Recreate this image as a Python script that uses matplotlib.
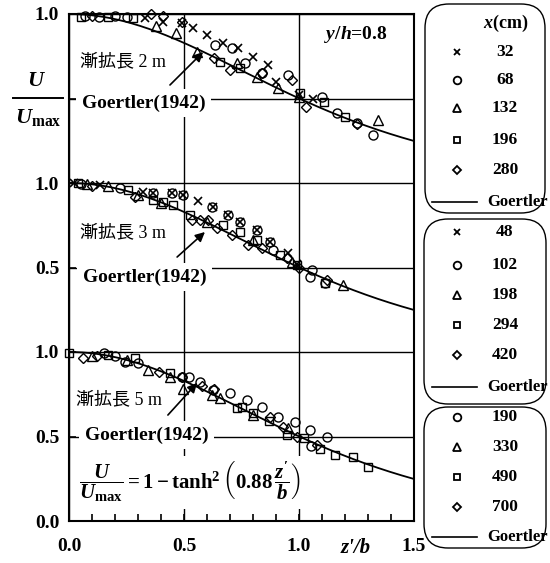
import numpy as np
import matplotlib
matplotlib.use("Agg")
import matplotlib.pyplot as plt
from matplotlib.patches import FancyBboxPatch
from matplotlib.lines import Line2D

plt.rcParams["font.family"] = ["Liberation Serif", "Noto Sans CJK JP"]
plt.rcParams["mathtext.fontset"] = "custom"
plt.rcParams["mathtext.rm"] = "Liberation Serif:bold"
plt.rcParams["mathtext.it"] = "Liberation Serif:italic:bold"
plt.rcParams["mathtext.bf"] = "Liberation Serif:bold"

# Goertler (1942) profile: U/Umax = 1 - tanh^2(K z'/b)
GOERTLER_K = 0.88

# ---- diffuser length 2 m (x = 32, 68, 132, 196, 280 cm) ----
d2_labels = ["32", "68", "132", "196", "280"]
d2_markers = ["x", "o", "^", "s", "D"]
d2_z = [
    [0.33, 0.41, 0.49, 0.54, 0.60, 0.67, 0.735, 0.80, 0.865, 0.90, 1.00, 1.06],
    [0.07, 0.13, 0.20, 0.25, 0.635, 0.71, 0.765, 0.84, 0.95, 1.10, 1.165, 1.25, 1.32],
    [0.38, 0.465, 0.556, 0.73, 0.817, 0.91, 1.00, 1.343],
    [0.05, 0.17, 0.28, 0.657, 0.743, 1.004, 1.11, 1.20],
    [0.10, 0.357, 0.41, 0.49, 0.63, 0.70, 0.84, 0.97, 1.03, 1.25],
]
d2_u = [
    [0.975, 0.955, 0.945, 0.92, 0.876, 0.828, 0.80, 0.746, 0.698, 0.598, 0.52, 0.50],
    [0.99, 0.985, 0.99, 0.985, 0.817, 0.799, 0.71, 0.651, 0.639, 0.508, 0.414, 0.356, 0.284],
    [0.929, 0.888, 0.775, 0.71, 0.627, 0.562, 0.51, 0.373],
    [0.985, 0.985, 0.976, 0.716, 0.68, 0.53, 0.48, 0.39],
    [0.99, 1.0, 0.99, 0.95, 0.74, 0.669, 0.651, 0.609, 0.45, 0.35],
]

# ---- diffuser length 3 m (x = 48, 102, 198, 294, 420 cm) ----
d3_labels = ["48", "102", "198", "294", "420"]
d3_markers = ["x", "o", "^", "s", "D"]
d3_z = [
    [0.02, 0.135, 0.32, 0.366, 0.447, 0.497, 0.56, 0.627, 0.693, 0.743, 0.816, 0.874, 0.952, 0.99],
    [0.05, 0.22, 0.366, 0.447, 0.497, 0.62, 0.693, 0.743, 0.816, 0.874, 0.888, 1.056, 1.048, 1.113],
    [0.08, 0.17, 0.30, 0.40, 0.60, 0.80, 0.97, 1.19],
    [0.04, 0.257, 0.366, 0.41, 0.452, 0.527, 0.67, 0.743, 0.816, 0.917, 0.99, 1.113],
    [0.10, 0.287, 0.534, 0.57, 0.604, 0.643, 0.707, 0.78, 0.838, 0.947, 1.00, 1.12],
]
d3_u = [
    [1.0, 0.99, 0.947, 0.941, 0.94, 0.929, 0.893, 0.858, 0.811, 0.769, 0.722, 0.651, 0.586, 0.52],
    [0.995, 0.97, 0.941, 0.94, 0.929, 0.858, 0.811, 0.769, 0.722, 0.651, 0.604, 0.485, 0.444, 0.408],
    [0.995, 0.985, 0.93, 0.88, 0.77, 0.66, 0.53, 0.396],
    [1.0, 0.959, 0.90, 0.888, 0.87, 0.81, 0.75, 0.71, 0.663, 0.574, 0.515, 0.41],
    [0.985, 0.917, 0.781, 0.781, 0.781, 0.734, 0.692, 0.633, 0.615, 0.556, 0.50, 0.426],
]

# ---- diffuser length 5 m (x = 190, 330, 490, 700 cm) ----
d5_labels = ["190", "330", "490", "700"]
d5_markers = ["o", "^", "s", "D"]
d5_z = [
    [0.15, 0.20, 0.245, 0.30, 0.49, 0.52, 0.57, 0.627, 0.70, 0.773, 0.838, 0.91, 0.983, 1.048, 1.12, 1.05],
    [0.10, 0.25, 0.345, 0.44, 0.497, 0.62, 0.657, 0.80, 0.95],
    [0.0, 0.17, 0.287, 0.44, 0.73, 0.75, 0.80, 0.87, 0.947, 1.02, 1.09, 1.157, 1.236, 1.30],
    [0.06, 0.12, 0.39, 0.49, 0.58, 0.63, 0.874, 0.93, 0.99, 1.08],
]
d5_u = [
    [0.994, 0.976, 0.941, 0.935, 0.852, 0.85, 0.822, 0.775, 0.757, 0.716, 0.675, 0.615, 0.586, 0.538, 0.497, 0.444],
    [0.975, 0.95, 0.893, 0.85, 0.78, 0.746, 0.728, 0.63, 0.55],
    [0.994, 0.985, 0.964, 0.876, 0.669, 0.675, 0.639, 0.59, 0.509, 0.49, 0.426, 0.39, 0.379, 0.32],
    [0.964, 0.976, 0.88, 0.852, 0.80, 0.78, 0.615, 0.556, 0.497, 0.45],
]

panel_names = ["漸拡長 2 m", "漸拡長 3 m", "漸拡長 5 m"]
panel_offsets = [2.0, 1.0, 0.0]
ytick_pos = [0.0, 0.5, 1.0, 1.5, 2.0, 2.5, 3.0]
ytick_text = ["0.0", "0.5", "1.0", "0.5", "1.0", "", "1.0"]
xtick_pos = [0.0, 0.5, 1.0, 1.5]
xtick_text = ["0.0", "0.5", "1.0", "1.5"]

panels = [
    (d2_labels, d2_markers, d2_z, d2_u),
    (d3_labels, d3_markers, d3_z, d3_u),
    (d5_labels, d5_markers, d5_z, d5_u),
]

W, H = 550, 563
fig = plt.figure(figsize=(W / 100, H / 100), dpi=100)
ax = fig.add_axes([69 / W, 1 - 521 / H, (414 - 69) / W, (521 - 14) / H])
ax.set_xlim(0, 1.5)
ax.set_ylim(0, 3.0)

for sp in ax.spines.values():
    sp.set_linewidth(1.5)

ax.set_xticks(xtick_pos)
ax.set_xticklabels(xtick_text)
ax.set_xticks(np.arange(0, 1.51, 0.1), minor=True)
ax.set_yticks(ytick_pos)
ax.set_yticklabels(ytick_text)
ax.tick_params(axis="both", which="both", direction="in", length=5, width=1.2,
               labelsize=14)
ax.tick_params(axis="x", which="major", pad=12)
ax.tick_params(axis="y", which="major", pad=7)
for lab in ax.get_xticklabels() + ax.get_yticklabels():
    lab.set_fontweight("bold")
ax.grid(True, which="major", color="black", lw=1.0, zorder=0)
ax.set_axisbelow(True)

marker_kw = {"x": dict(ms=5.5, mew=1.2),
             "o": dict(ms=6.5, mew=1.0),
             "^": dict(ms=6.5, mew=1.0),
             "s": dict(ms=6.0, mew=1.0),
             "D": dict(ms=5.5, mew=1.0)}

zc = np.linspace(0, 1.5, 200)
uc = 1 - np.tanh(GOERTLER_K * zc) ** 2

for (labels, markers, zs, us), off in zip(panels, panel_offsets):
    ax.plot(zc, uc + off, color="black", lw=1.3, zorder=3)
    for lab, mk, z, u in zip(labels, markers, zs, us):
        ax.plot(z, np.asarray(u) + off, linestyle="none", marker=mk,
                mfc="none", mec="black", zorder=4, clip_on=False,
                **marker_kw[mk])

box = dict(fc="white", ec="none", pad=4)
name_y = [2.716, 1.704, 0.716]
name_x = [0.048, 0.048, 0.030]
ref_y = [2.473, 1.444, 0.509]
ref_x = [0.057, 0.060, 0.070]
arrow_tail = [(0.439, 2.580), (0.470, 1.562), (0.430, 0.627)]
arrow_head = [(0.583, 2.775), (0.591, 1.710), (0.557, 0.817)]
for i in range(3):
    ax.text(name_x[i], name_y[i], panel_names[i], fontsize=13, ha="left",
            va="center", zorder=5)
    ax.text(ref_x[i], ref_y[i], "Goertler(1942)", fontsize=14, ha="left",
            va="center", fontweight="bold", bbox=box, zorder=5)
    ax.annotate("", xy=arrow_head[i], xytext=arrow_tail[i],
                arrowprops=dict(arrowstyle="-|>", color="black", lw=1.2,
                                mutation_scale=14, shrinkA=0, shrinkB=0),
                zorder=6)

ax.text(0.045, 0.23,
        r"$\dfrac{U}{U_{\mathbf{max}}}=1-\tanh^2\left(0.88\,\dfrac{z'}{b}\right)$",
        fontsize=15, ha="left", va="center", zorder=5,
        bbox=dict(fc="white", ec="none", pad=3))
ax.text(1.248, 2.876, r"$y/h$=0.8", fontsize=14, ha="center", va="center",
        fontweight="bold")
ax.text(1.245, -0.053, "z'/b", fontsize=15, ha="center", va="center",
        fontstyle="italic", fontweight="bold",
        transform=ax.get_xaxis_transform())

# overlay in pixel units for the y-label fraction and the legend boxes
ov = fig.add_axes([0, 0, 1, 1], zorder=5)
ov.set_xlim(0, W)
ov.set_ylim(H, 0)
ov.axis("off")
ov.patch.set_alpha(0)

ov.text(37, 82, r"$U$", fontsize=16, ha="center", va="center")
ov.add_line(Line2D([13, 63], [98, 98], color="black", lw=1.4))
ov.text(38, 118, r"$U_{\mathbf{max}}$", fontsize=16, ha="center", va="center")

legend_boxes = [(425, 4, 120, 209), (424, 219, 122, 185), (424, 407, 122, 141)]
legend_rows = [
    [52, 80, 108, 140, 170, 202],
    [232, 265, 295, 325, 355, 387],
    [417, 447, 477, 507, 537],
]
for (bx, by, bw, bh), (labels, markers, _, _), rows in zip(legend_boxes, panels, legend_rows):
    ov.add_patch(FancyBboxPatch((bx, by), bw, bh,
                                boxstyle="round,pad=0,rounding_size=24",
                                fc="white", ec="black", lw=1.0))
    for lab, mk, yy in zip(labels, markers, rows):
        ov.plot([457], [yy], marker=mk, mfc="none", mec="black",
                ms=marker_kw[mk]["ms"] - 1.0, mew=1.3, linestyle="none")
        ov.text(505, yy, lab, fontsize=12.5, fontweight="bold", ha="center",
                va="center")
    gy = rows[-1]
    ov.add_line(Line2D([432, 477], [gy, gy], color="black", lw=1.2))
    ov.text(487, gy, "Goertler", fontsize=12, fontweight="bold", ha="left",
            va="center")

ov.text(506, 23, r"$x$(cm)", fontsize=13, ha="center", va="center",
        fontweight="bold")

fig.savefig("out.png", dpi=100)
